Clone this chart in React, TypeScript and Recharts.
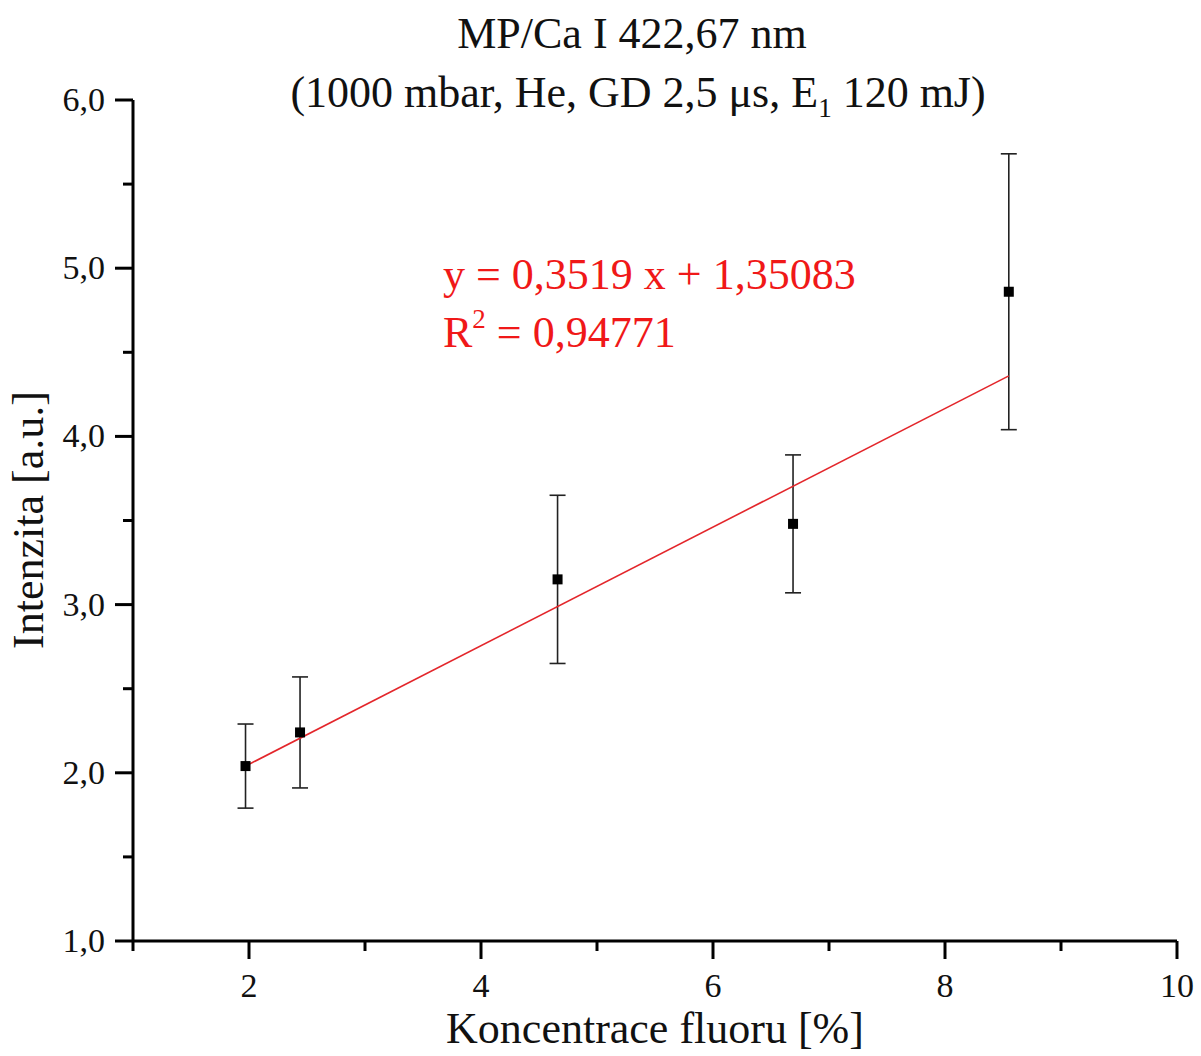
import { ScatterChart, Scatter, XAxis, YAxis, ErrorBar } from "recharts"

// measured points (concentration %, intensity a.u., symmetric error)
const CONC = [1.97, 2.44, 4.66, 6.69, 8.55]
const INTENSITY = [2.04, 2.24, 3.15, 3.48, 4.86]
const ERR = [0.25, 0.33, 0.5, 0.41, 0.82]

// linear fit end points
const FIT_X = [1.97, 8.55]
const FIT_Y = [2.04, 4.36]

const X_TICKS = [1, 2, 3, 4, 5, 6, 7, 8, 9, 10]
const Y_TICKS = [1, 1.5, 2, 2.5, 3, 3.5, 4, 4.5, 5, 5.5, 6]

const points = CONC.map((x, i) => ({ x, y: INTENSITY[i], err: ERR[i] }))
const fit = FIT_X.map((x, i) => ({ x, y: FIT_Y[i] }))

const FONT = "'Liberation Serif', 'Times New Roman', serif"
const RED = "#f01818"

function XTick(props: any) {
  const { x, y, payload } = props
  const major = payload.value % 2 === 0
  return (
    <g>
      <line x1={x} x2={x} y1={y} y2={y + (major ? 18 : 10)} stroke="#000" strokeWidth={3} />
      {major && (
        <text x={x} y={y + 56} textAnchor="middle" style={{ fontFamily: FONT, fontSize: 34, fill: "#111" }}>
          {payload.value}
        </text>
      )}
    </g>
  )
}

function YTick(props: any) {
  const { x, y, payload } = props
  const major = Number.isInteger(payload.value)
  return (
    <g>
      <line x1={x} x2={x - (major ? 18 : 10)} y1={y} y2={y} stroke="#000" strokeWidth={3} />
      {major && (
        <text x={x - 28} y={y + 11} textAnchor="end" style={{ fontFamily: FONT, fontSize: 34, fill: "#111" }}>
          {payload.value.toFixed(1).replace(".", ",")}
        </text>
      )}
    </g>
  )
}

function Marker(props: any) {
  const { cx, cy } = props
  return <rect x={cx - 5} y={cy - 5} width={10} height={10} fill="#000" />
}

export default function App() {
  return (
    <div style={{ position: "absolute", left: 0, top: 0, width: 1201, height: 1056, background: "#fff" }}>
      <ScatterChart width={1201} height={1056} margin={{ top: 100, right: 24, bottom: 15, left: 33 }}>
        <XAxis
          type="number"
          dataKey="x"
          domain={[1, 10]}
          ticks={X_TICKS}
          interval={0}
          height={100}
          tickSize={0}
          tickMargin={0}
          tickLine={false}
          tick={<XTick />}
          axisLine={{ stroke: "#000", strokeWidth: 3 }}
        />
        <YAxis
          type="number"
          dataKey="y"
          domain={[1, 6]}
          ticks={Y_TICKS}
          interval={0}
          width={100}
          tickSize={0}
          tickMargin={0}
          tickLine={false}
          tick={<YTick />}
          axisLine={{ stroke: "#000", strokeWidth: 3 }}
        />
        <Scatter
          data={fit}
          line={{ stroke: "#e3262b", strokeWidth: 1.6 }}
          shape={() => <g />}
          isAnimationActive={false}
        />
        <Scatter data={points} shape={<Marker />} isAnimationActive={false}>
          <ErrorBar dataKey="err" direction="y" width={8} stroke="#222" strokeWidth={1.6} />
        </Scatter>
      </ScatterChart>

      <svg width={1201} height={1056} style={{ position: "absolute", left: 0, top: 0, pointerEvents: "none" }}>
        <g style={{ fontFamily: FONT, fill: "#111" }}>
          <text x={632} y={48} textAnchor="middle" fontSize={44}>MP/Ca I 422,67 nm</text>
          <text x={638} y={107} textAnchor="middle" fontSize={44}>
            (1000 mbar, He, GD 2,5 μs, E
            <tspan fontSize={27} dy={10}>1</tspan>
            <tspan dy={-10}> 120 mJ)</tspan>
          </text>
          <text x={655} y={1043} textAnchor="middle" fontSize={44}>Koncentrace fluoru [%]</text>
          <text transform="translate(43,520) rotate(-90)" textAnchor="middle" fontSize={44}>Intenzita [a.u.]</text>
        </g>
        <g style={{ fontFamily: FONT, fill: RED }}>
          <text x={443} y={289} fontSize={44}>y = 0,3519 x + 1,35083</text>
          <text x={443} y={347} fontSize={44}>
            R<tspan fontSize={27} dy={-19}>2</tspan>
            <tspan dy={19}> = 0,94771</tspan>
          </text>
        </g>
      </svg>
    </div>
  )
}
